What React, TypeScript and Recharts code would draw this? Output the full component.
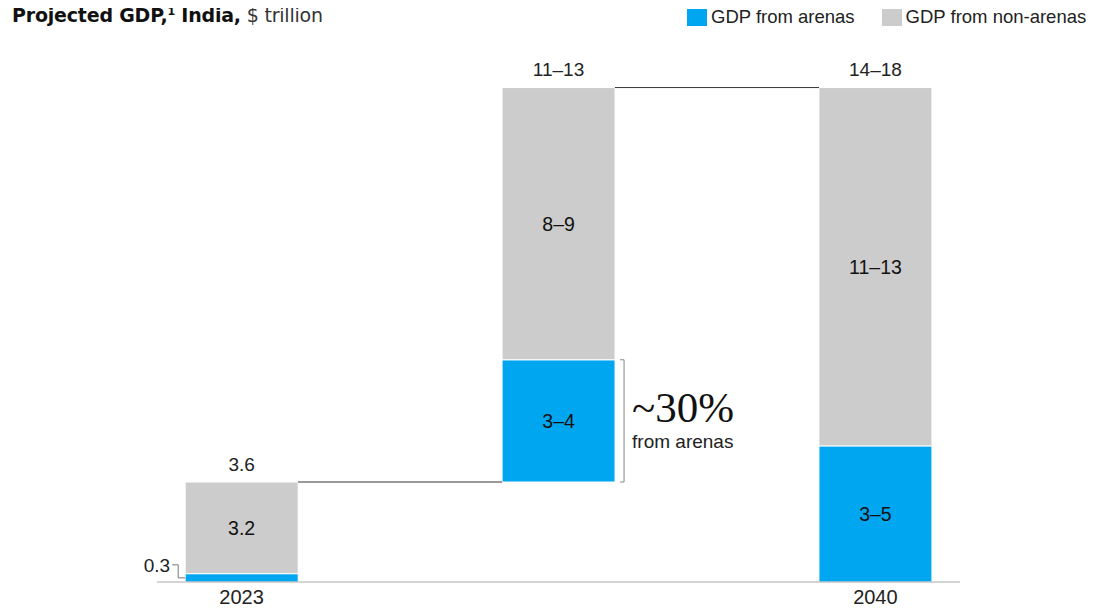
import React from "react"
import { BarChart, Bar, XAxis, YAxis, LabelList, ReferenceLine } from "recharts"

// x positions of the three bars (middle one is the increment, no period label)
const positions = [0, 1, 2]
const periods = ["2023", "", "2040"]
const baseValues = [0, 3.6, 0]
const arenaValues = [0.3, 4.4, 4.9]
const nonArenaValues = [3.3, 9.8, 12.9]
const arenaLabels = ["0.3", "3–4", "3–5"]
const nonArenaLabels = ["3.2", "8–9", "11–13"]
const totalLabels = ["3.6", "11–13", "14–18"]

const BLUE = "#00A6F0"
const GRAY = "#CCCCCC"
const FONT = "'Liberation Sans', Arial, sans-serif"
const BAR_HALF = 0.178 // half bar width in x units, so connectors start at bar edges

const data = positions.map((pos, i) => ({
  pos,
  base: baseValues[i],
  arena: arenaValues[i],
  nonArena: nonArenaValues[i],
  arenaLabel: arenaLabels[i],
  nonArenaLabel: nonArenaLabels[i],
  totalLabel: totalLabels[i],
}))

const totals = data.map((d) => d.base + d.arena + d.nonArena)

const renderArena = (props: any) => {
  const { x, y, width, height, value, index } = props
  if (index === 0) {
    // small segment: label sits to the left with a bracket
    const cy = y + height / 2
    return (
      <g>
        <text x={x - 15} y={cy - 12} textAnchor="end" dominantBaseline="central" fontSize={19} fill="#222">
          {value}
        </text>
        <path d={`M${x - 13},${cy - 13} H${x - 7} V${cy} H${x}`} fill="none" stroke="#777" strokeWidth={1} />
      </g>
    )
  }
  return (
    <g>
      <text x={x + width / 2} y={y + height / 2} textAnchor="middle" dominantBaseline="central" fontSize={19.5} fill="#111">
        {value}
      </text>
      {index === 1 && (
        <g>
          <path
            d={`M${x + width + 5},${y} H${x + width + 9} V${y + height} H${x + width + 5}`}
            fill="none"
            stroke="#888"
            strokeWidth={1}
          />
          <text x={x + width + 17} y={y + 62} fontFamily="'Liberation Serif', 'DejaVu Serif', serif" fontSize={43} fill="#111">
            ~30%
          </text>
          <text x={x + width + 17} y={y + 88} fontSize={19} fill="#222">
            from arenas
          </text>
        </g>
      )}
    </g>
  )
}

const renderNonArena = (props: any) => {
  const { x, y, width, height, value } = props
  return (
    <text x={x + width / 2} y={y + height / 2} textAnchor="middle" dominantBaseline="central" fontSize={19.5} fill="#111">
      {value}
    </text>
  )
}

const renderTotal = (props: any) => {
  const { x, y, width, value } = props
  return (
    <text x={x + width / 2} y={y - 18} textAnchor="middle" dominantBaseline="central" fontSize={19} fill="#222">
      {value}
    </text>
  )
}

export default function App() {
  return (
    <div style={{ position: "relative", width: 1104, height: 611, marginTop: -8, marginLeft: -8, fontFamily: FONT, background: "#fff" }}>
      <div
        style={{
          position: "absolute",
          left: 12,
          top: 4,
          fontSize: 19,
          fontFamily: "'DejaVu Sans', sans-serif",
          color: "#111",
          whiteSpace: "nowrap",
          letterSpacing: -0.2,
        }}
      >
        <b>
          Projected GDP,<sup style={{ fontSize: 11 }}>1</sup> India,
        </b>{" "}
        <span style={{ color: "#333" }}>$ trillion</span>
      </div>
      <div style={{ position: "absolute", left: 687, top: 6, display: "flex", alignItems: "center", fontSize: 18.5, color: "#222", whiteSpace: "nowrap" }}>
        <span style={{ width: 20, height: 17, background: BLUE, display: "inline-block", marginRight: 4 }} />
        <span style={{ marginRight: 27 }}>GDP from arenas</span>
        <span style={{ width: 20, height: 17, background: GRAY, display: "inline-block", marginRight: 4 }} />
        <span>GDP from non-arenas</span>
      </div>
      <BarChart
        width={1104}
        height={611}
        data={data}
        barSize={113}
        margin={{ top: 82, right: 144, left: 157, bottom: 5 }}
        style={{ position: "absolute", left: 0, top: 0 }}
      >
        <XAxis
          type="number"
          dataKey="pos"
          domain={[-0.267, 2.267]}
          ticks={[0, 2]}
          tickFormatter={(v: number) => periods[v]}
          axisLine={{ stroke: "#aaa" }}
          tickLine={false}
          height={24}
          tick={{ fontSize: 20, fill: "#222" }}
        />
        <YAxis hide domain={[0, 18]} />
        <ReferenceLine
          segment={[
            { x: positions[0] + BAR_HALF, y: totals[0] },
            { x: positions[1] - BAR_HALF, y: totals[0] },
          ]}
          stroke="#333"
        />
        <ReferenceLine
          segment={[
            { x: positions[1] + BAR_HALF, y: totals[1] },
            { x: positions[2] - BAR_HALF, y: totals[1] },
          ]}
          stroke="#333"
        />
        <Bar dataKey="base" stackId="a" fill="transparent" isAnimationActive={false} />
        <Bar dataKey="arena" stackId="a" fill={BLUE} stroke="#fff" strokeWidth={1} isAnimationActive={false}>
          <LabelList dataKey="arenaLabel" content={renderArena} />
        </Bar>
        <Bar dataKey="nonArena" stackId="a" fill={GRAY} stroke="#fff" strokeWidth={1} isAnimationActive={false}>
          <LabelList dataKey="nonArenaLabel" content={renderNonArena} />
          <LabelList dataKey="totalLabel" content={renderTotal} />
        </Bar>
      </BarChart>
    </div>
  )
}
